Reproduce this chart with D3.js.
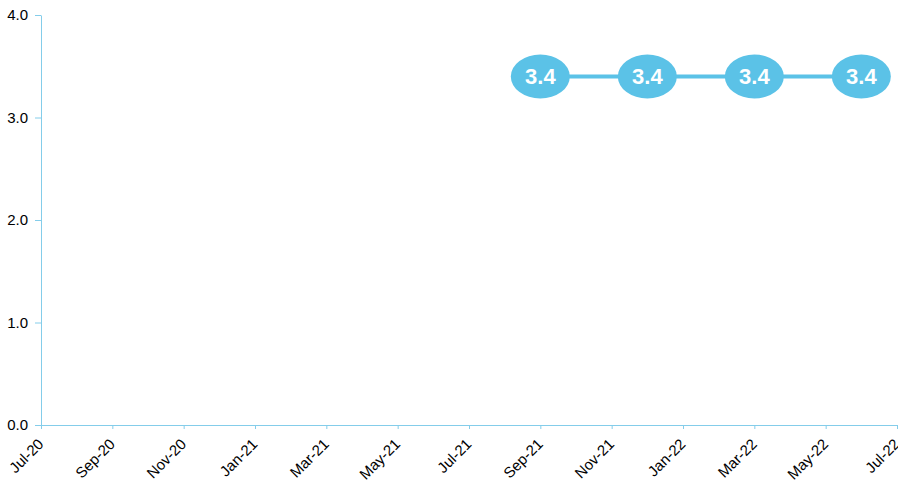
<!DOCTYPE html>
<html><head><meta charset="utf-8">
<script src="https://cdn.jsdelivr.net/npm/d3@7"></script>
<style>
body{margin:0;background:#fff;}
svg{display:block;font-family:"Liberation Sans",Arial,sans-serif;}
</style></head>
<body><svg id="c" width="898" height="481"></svg>
<script>
const monthLabels = ["Jul-20","Sep-20","Nov-20","Jan-21","Mar-21","May-21","Jul-21","Sep-21","Nov-21","Jan-22","Mar-22","May-22","Jul-22"];
const tickMonths = [0,2,4,6,8,10,12,14,16,18,20,22,24];
const pointMonths = [14,17,20,23];   // Sep-21, Dec-21, Mar-22, Jun-22
const pointValues = [3.4,3.4,3.4,3.4];
const yTicks = [0,1,2,3,4];

const svg = d3.select("#c");
const axisColor = "#84cdea";
const seriesColor = "#5bc2e7";
const x = d3.scaleLinear().domain([0,24]).range([41,897]);
const y = d3.scaleLinear().domain([0,4]).range([425,15]);

const xAxis = svg.append("g").attr("transform","translate(0,425)")
  .call(d3.axisBottom(x).tickValues(tickMonths).tickSize(4).tickSizeOuter(0)
    .tickFormat((d,i)=>monthLabels[i]));
xAxis.select(".domain").attr("stroke",axisColor);
xAxis.selectAll(".tick line").attr("stroke",axisColor);
xAxis.selectAll(".tick text").attr("font-size",15).attr("fill","#000")
  .attr("text-anchor","end").attr("x",0).attr("y",0).attr("dy",0)
  .attr("transform","translate(3,20) rotate(-45)");

const yAxis = svg.append("g").attr("transform","translate(41,0)")
  .call(d3.axisLeft(y).tickValues(yTicks).tickSize(6).tickSizeOuter(0).tickPadding(7)
    .tickFormat(d3.format(".1f")));
yAxis.select(".domain").attr("stroke",axisColor);
yAxis.selectAll(".tick line").attr("stroke",axisColor);
yAxis.selectAll(".tick text").attr("font-size",15).attr("fill","#000");

const pts = pointMonths.map((m,i)=>({m, v: pointValues[i]}));
svg.append("path").datum(pts)
  .attr("fill","none").attr("stroke",seriesColor).attr("stroke-width",4)
  .attr("d", d3.line().x(d=>x(d.m)).y(d=>y(d.v)));
const g = svg.selectAll("g.pt").data(pts).join("g").attr("class","pt")
  .attr("transform", d=>`translate(${x(d.m)},${y(d.v)})`);
g.append("ellipse").attr("rx",29.5).attr("ry",22).attr("fill",seriesColor);
g.append("text").text(d=>d3.format(".1f")(d.v))
  .attr("text-anchor","middle").attr("dy","0.36em")
  .attr("fill","#fff").attr("font-weight","bold").attr("font-size",22);
</script></body></html>
